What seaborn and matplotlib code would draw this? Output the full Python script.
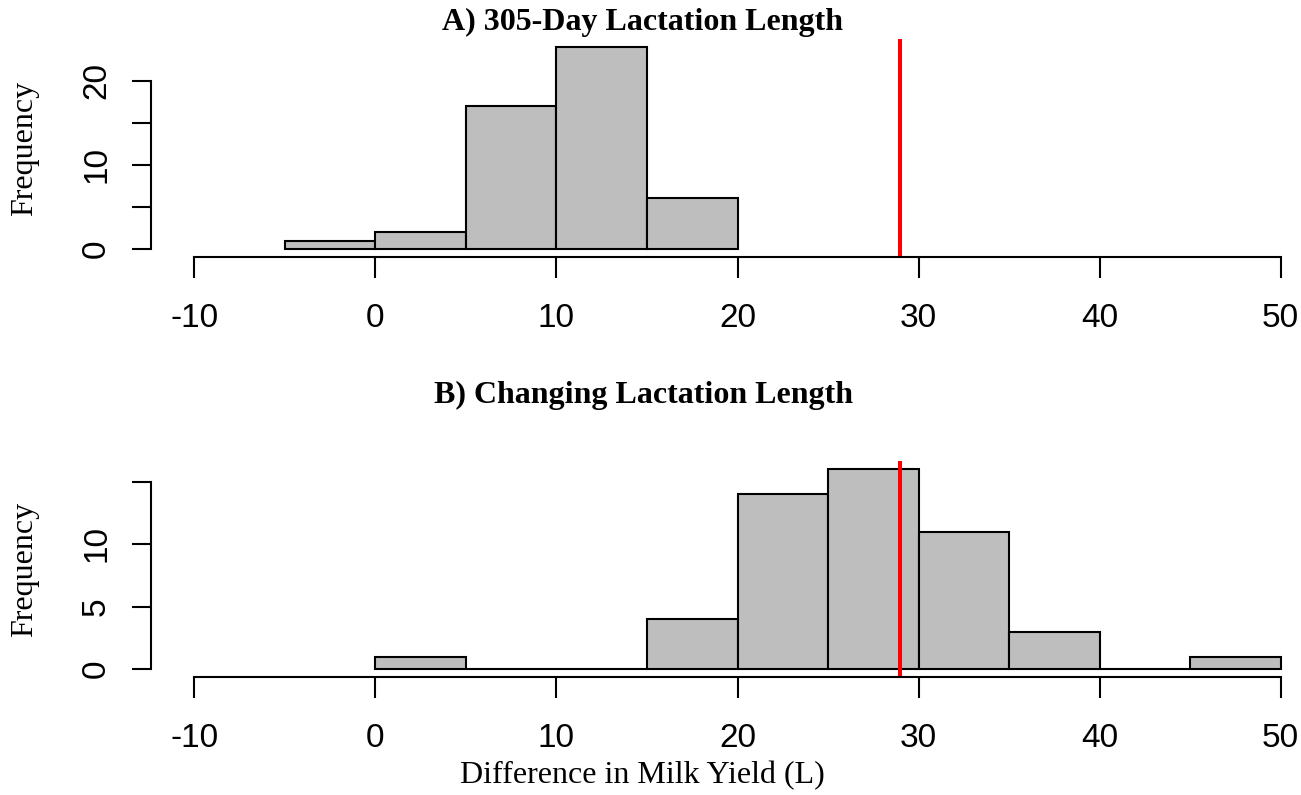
import numpy as np
import matplotlib
matplotlib.use("Agg")
import matplotlib.pyplot as plt
import seaborn as sns

# bin edges and counts
edges_a = [-5, 0, 5, 10, 15, 20]
counts_a = [1, 2, 17, 24, 6]
edges_b = [0, 5, 10, 15, 20, 25, 30, 35, 40, 45, 50]
counts_b = [1, 0, 0, 4, 14, 16, 11, 3, 0, 1]
observed = 29

x_ticks = [-10, 0, 10, 20, 30, 40, 50]
y_ticks_a = [0, 5, 10, 15, 20]
y_labels_a = ["0", "", "10", "", "20"]
y_ticks_b = [0, 5, 10, 15]
y_labels_b = ["0", "5", "10", ""]

sns.set_style("white")
plt.rcParams["text.color"] = "black"
plt.rcParams["axes.labelcolor"] = "black"
plt.rcParams["xtick.labelcolor"] = "black"
plt.rcParams["ytick.labelcolor"] = "black"

W, H = 1301, 795
fig = plt.figure(figsize=(W / 100, H / 100), dpi=100)

def px_axes(left, top, right, bottom):
    return fig.add_axes([left / W, 1 - bottom / H, (right - left) / W, (bottom - top) / H])

def panel(ax, edges, counts, ymax, yticks, ylabels):
    centers = [(edges[i] + edges[i + 1]) / 2 for i in range(len(counts))]
    sns.histplot(x=centers, weights=counts, bins=edges, ax=ax,
                 color="#bebebe", edgecolor="black", linewidth=1.5, alpha=1)
    ax.axvline(observed, color="red", lw=2.9)
    ax.set_xlim(-12.4, 52.4)
    ax.set_ylim(-0.04 * ymax, 1.04 * ymax)
    for s in ["top", "right"]:
        ax.spines[s].set_visible(False)
    ax.spines["bottom"].set_bounds(-10, 50)
    ax.spines["left"].set_bounds(yticks[0], yticks[-1])
    for s in ["bottom", "left"]:
        ax.spines[s].set_linewidth(1.5)
        ax.spines[s].set_color("black")
    ax.set_xticks(x_ticks)
    ax.set_xticklabels([str(t) for t in x_ticks], fontfamily="Liberation Sans", fontsize=24)
    ax.set_yticks(yticks)
    ax.set_yticklabels(ylabels, fontfamily="Liberation Sans", fontsize=24,
                       rotation=90, va="center")
    ax.tick_params(axis="x", direction="out", length=15, width=1.5, color="black",
                   bottom=True, pad=18)
    ax.tick_params(axis="y", direction="out", length=14, width=1.5, color="black",
                   left=True, pad=14)
    ax.set_xlabel("")
    ax.set_ylabel("Frequency", fontfamily="Liberation Serif", fontsize=23, va="center")
    ax.yaxis.set_label_coords((25 - 151) / 1173, 0.5)

ax_a = px_axes(151, 39, 1324, 257)
panel(ax_a, edges_a, counts_a, 24, y_ticks_a, y_labels_a)
ax_b = px_axes(151, 461, 1324, 677)
panel(ax_b, edges_b, counts_b, 16, y_ticks_b, y_labels_b)

fig.text(643 / W, 1 - 22 / H, "A) 305-Day Lactation Length", ha="center", va="center",
         fontfamily="Liberation Serif", fontweight="bold", fontsize=23)
fig.text(643 / W, 1 - 395 / H, "B) Changing Lactation Length", ha="center", va="center",
         fontfamily="Liberation Serif", fontweight="bold", fontsize=23)
fig.text(642 / W, 1 - 776 / H, "Difference in Milk Yield (L)", ha="center", va="center",
         fontfamily="Liberation Serif", fontsize=23)

fig.savefig("out.png", dpi=100)
